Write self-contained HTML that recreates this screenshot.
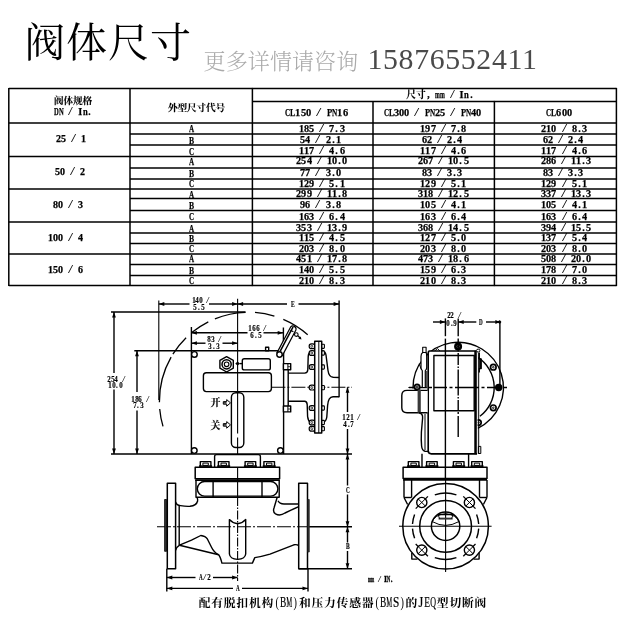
<!DOCTYPE html>
<html lang="zh-CN"><head><meta charset="utf-8"><title>阀体尺寸</title><style>
html,body{margin:0;padding:0;background:#fff}
body{width:626px;height:626px;position:relative;overflow:hidden;font-family:"Liberation Serif","Noto Serif CJK SC",serif}
svg{position:absolute;left:0;top:0}
svg *{fill:none;stroke:#000;stroke-linecap:butt;stroke-linejoin:round}
svg .f{fill:#000;stroke:none}
svg .w{fill:#fff}
svg .k{fill:#000}
#tx{position:absolute;left:0;top:0;width:626px;height:626px;will-change:transform}
.h{position:absolute;white-space:nowrap;line-height:1;font-family:"Liberation Serif","Noto Serif CJK SC",serif}
.t{-webkit-text-stroke:.25px #000;position:absolute;white-space:pre;line-height:1;font-weight:bold;color:#000;display:block;word-spacing:calc(var(--a) - .25em);font-family:"Liberation Serif","Noto Serif CJK SC",serif}
.t i,.t b,.t s,.t u,.t em{display:inline-flex;justify-content:center;width:var(--a);font-style:normal;text-decoration:none;font-weight:bold;flex:none}
.t u{width:calc(var(--a)*2);font-size:.94em;-webkit-text-stroke:.12px #000}
.t i{transform:scaleX(.93)}
.t b{transform:scale(var(--s),var(--v,1));transform-origin:50% 82%}
.t em{transform:scale(1.7,1.12);-webkit-text-stroke:0;font-weight:400}
.t s{transform:scaleX(.85)}
.t.d{-webkit-text-stroke:.15px #000}
.t.k u{-webkit-text-stroke:.15px #000}
.t.m{-webkit-text-stroke:.3px #000}
.t.c{-webkit-text-stroke:0}
.t.c b{font-weight:400;-webkit-text-stroke:.2px #000}
.t.c u{font-size:.97em;-webkit-text-stroke:0}
.t.c{--v:1.14}
.t.c i{transform:scale(.85,1.14);transform-origin:50% 82%;font-weight:400}
</style></head><body>
<svg width="626" height="626" viewBox="0 0 626 626">
<line x1="8.8" y1="88.5" x2="616.4" y2="88.5" stroke-width="1.50" />
<line x1="8.8" y1="285.5" x2="616.4" y2="285.5" stroke-width="1.50" />
<line x1="8.8" y1="87.9" x2="8.8" y2="286.1" stroke-width="1.50" />
<line x1="130.0" y1="87.9" x2="130.0" y2="286.1" stroke-width="1.50" />
<line x1="252.4" y1="87.9" x2="252.4" y2="286.1" stroke-width="1.50" />
<line x1="373.0" y1="100.9" x2="373.0" y2="286.1" stroke-width="1.50" />
<line x1="494.4" y1="100.9" x2="494.4" y2="286.1" stroke-width="1.50" />
<line x1="616.4" y1="87.9" x2="616.4" y2="286.1" stroke-width="1.50" />
<line x1="252.4" y1="101.5" x2="616.4" y2="101.5" stroke-width="1.50" />
<line x1="8.8" y1="123.0" x2="616.4" y2="123.0" stroke-width="1.50" />
<line x1="130.0" y1="134.0" x2="616.4" y2="134.0" stroke-width="1.50" />
<line x1="130.0" y1="145.0" x2="616.4" y2="145.0" stroke-width="1.50" />
<line x1="8.8" y1="156.5" x2="616.4" y2="156.5" stroke-width="1.50" />
<line x1="130.0" y1="168.0" x2="616.4" y2="168.0" stroke-width="1.50" />
<line x1="130.0" y1="179.0" x2="616.4" y2="179.0" stroke-width="1.50" />
<line x1="8.8" y1="189.0" x2="616.4" y2="189.0" stroke-width="1.50" />
<line x1="130.0" y1="198.5" x2="616.4" y2="198.5" stroke-width="1.50" />
<line x1="130.0" y1="210.5" x2="616.4" y2="210.5" stroke-width="1.50" />
<line x1="8.8" y1="222.0" x2="616.4" y2="222.0" stroke-width="1.50" />
<line x1="130.0" y1="233.0" x2="616.4" y2="233.0" stroke-width="1.50" />
<line x1="130.0" y1="243.5" x2="616.4" y2="243.5" stroke-width="1.50" />
<line x1="8.8" y1="254.0" x2="616.4" y2="254.0" stroke-width="1.50" />
<line x1="130.0" y1="264.5" x2="616.4" y2="264.5" stroke-width="1.50" />
<line x1="130.0" y1="275.5" x2="616.4" y2="275.5" stroke-width="1.50" />
<line x1="111.0" y1="312.0" x2="245.5" y2="312.0" stroke-width="1.40" />
<line x1="114.0" y1="312.0" x2="114.0" y2="373.0" stroke-width="1.40" />
<line x1="114.0" y1="389.5" x2="114.0" y2="454.0" stroke-width="1.40" />
<path d="M114.0 312.0L112.1 317.5L115.9 317.5Z" class="f"/>
<path d="M114.0 454.0L115.9 448.5L112.1 448.5Z" class="f"/>
<line x1="158.8" y1="300.5" x2="158.8" y2="400.0" stroke-width="1.10" />
<line x1="158.8" y1="304.0" x2="189.5" y2="304.0" stroke-width="1.40" />
<line x1="209.0" y1="304.0" x2="237.6" y2="304.0" stroke-width="1.40" />
<path d="M158.8 304.0L164.3 305.9L164.3 302.1Z" class="f"/>
<path d="M237.6 304.0L232.1 302.1L232.1 305.9Z" class="f"/>
<line x1="237.6" y1="304.0" x2="287.0" y2="304.0" stroke-width="1.40" />
<line x1="298.5" y1="304.0" x2="339.1" y2="304.0" stroke-width="1.40" />
<path d="M237.6 304.0L243.1 305.9L243.1 302.1Z" class="f"/>
<path d="M339.1 304.0L333.6 302.1L333.6 305.9Z" class="f"/>
<line x1="339.1" y1="300.5" x2="339.1" y2="397.2" stroke-width="1.40" />
<line x1="134.3" y1="350.7" x2="283.6" y2="350.7" stroke-width="1.40" />
<line x1="137.0" y1="350.7" x2="137.0" y2="392.0" stroke-width="1.40" />
<line x1="137.0" y1="410.5" x2="137.0" y2="454.0" stroke-width="1.40" />
<path d="M137.0 350.7L135.1 356.2L138.9 356.2Z" class="f"/>
<path d="M137.0 454.0L138.9 448.5L135.1 448.5Z" class="f"/>
<line x1="191.4" y1="327.0" x2="191.4" y2="454.0" stroke-width="1.40" />
<line x1="191.4" y1="332.8" x2="247.5" y2="332.8" stroke-width="1.40" />
<line x1="263.5" y1="332.8" x2="283.2" y2="332.8" stroke-width="1.40" />
<path d="M191.4 332.8L196.9 334.7L196.9 330.9Z" class="f"/>
<path d="M283.2 332.8L277.7 330.9L277.7 334.7Z" class="f"/>
<line x1="283.4" y1="327.5" x2="283.4" y2="351.0" stroke-width="1.40" />
<line x1="191.4" y1="343.2" x2="205.5" y2="343.2" stroke-width="1.40" />
<line x1="222.5" y1="343.2" x2="237.6" y2="343.2" stroke-width="1.40" />
<path d="M191.4 343.2L196.9 345.1L196.9 341.3Z" class="f"/>
<path d="M237.6 343.2L232.1 341.3L232.1 345.1Z" class="f"/>
<line x1="111.0" y1="454.0" x2="352.0" y2="454.0" stroke-width="1.40" />
<line x1="347.5" y1="387.3" x2="347.5" y2="412.0" stroke-width="1.40" />
<line x1="347.5" y1="429.0" x2="347.5" y2="454.0" stroke-width="1.40" />
<path d="M347.5 387.3L345.6 392.8L349.4 392.8Z" class="f"/>
<path d="M347.5 454.0L349.4 448.5L345.6 448.5Z" class="f"/>
<line x1="347.5" y1="454.0" x2="347.5" y2="485.5" stroke-width="1.40" />
<line x1="347.5" y1="494.5" x2="347.5" y2="526.7" stroke-width="1.40" />
<path d="M347.5 454.0L345.6 459.5L349.4 459.5Z" class="f"/>
<path d="M347.5 526.7L349.4 521.2L345.6 521.2Z" class="f"/>
<line x1="347.5" y1="526.7" x2="347.5" y2="542.5" stroke-width="1.40" />
<line x1="347.5" y1="551.0" x2="347.5" y2="568.7" stroke-width="1.40" />
<path d="M347.5 526.7L345.6 532.2L349.4 532.2Z" class="f"/>
<path d="M347.5 568.7L349.4 563.2L345.6 563.2Z" class="f"/>
<line x1="298.7" y1="568.7" x2="352.0" y2="568.7" stroke-width="1.40" />
<line x1="166.8" y1="568.7" x2="166.8" y2="591.5" stroke-width="1.40" />
<line x1="308.0" y1="568.7" x2="308.0" y2="591.5" stroke-width="1.40" />
<line x1="166.8" y1="577.5" x2="195.5" y2="577.5" stroke-width="1.40" />
<line x1="213.0" y1="577.5" x2="237.6" y2="577.5" stroke-width="1.40" />
<path d="M166.8 577.5L172.3 579.4L172.3 575.6Z" class="f"/>
<path d="M237.6 577.5L232.1 575.6L232.1 579.4Z" class="f"/>
<line x1="166.8" y1="588.4" x2="233.0" y2="588.4" stroke-width="1.40" />
<line x1="242.0" y1="588.4" x2="308.0" y2="588.4" stroke-width="1.40" />
<path d="M166.8 588.4L172.3 590.3L172.3 586.5Z" class="f"/>
<path d="M308.0 588.4L302.5 586.5L302.5 590.3Z" class="f"/>
<line x1="237.6" y1="298.8" x2="237.6" y2="433.5" stroke-width="1.10" />
<line x1="237.6" y1="437.5" x2="237.6" y2="455.0" stroke-width="1.10" />
<line x1="237.6" y1="467.0" x2="237.6" y2="497.0" stroke-width="1.10" />
<line x1="237.6" y1="497.0" x2="237.6" y2="581.0" stroke-width="1.10" stroke-dasharray="9 1.5 1.5 1.5"/>
<line x1="271.4" y1="387.3" x2="352.0" y2="387.3" stroke-width="1.10" stroke-dasharray="14 2 2 2"/>
<line x1="157.0" y1="526.7" x2="308.0" y2="526.7" stroke-width="1.10" stroke-dasharray="14 2 2 2"/>
<line x1="308.0" y1="526.7" x2="352.0" y2="526.7" stroke-width="1.40" />
<path d="M163.0 426.4A89.1 89.1 0 0 1 159.7 409.0" stroke-width="1.30" />
<path d="M159.4 402.2A89.1 89.1 0 0 1 171.1 357.1" stroke-width="1.30" />
<path d="M172.9 354.1A89.1 89.1 0 0 1 186.1 337.7" stroke-width="1.30" />
<path d="M191.7 332.6A89.1 89.1 0 0 1 208.3 321.8" stroke-width="1.30" />
<path d="M214.9 318.8A89.1 89.1 0 0 1 245.5 312.3" stroke-width="1.30" />
<path d="M255.0 312.4A89.1 89.1 0 0 1 274.4 316.1" stroke-width="1.30" />
<path d="M283.3 319.3A89.1 89.1 0 0 1 307.7 334.7" stroke-width="1.30" />
<line x1="283.6" y1="352.0" x2="283.6" y2="454.0" stroke-width="1.40" />
<circle cx="194.4" cy="354.4" r="2.8" stroke-width="1.40" class="w"/>
<circle cx="194.3" cy="450.6" r="2.8" stroke-width="1.40" class="w"/>
<circle cx="280.4" cy="450.6" r="2.8" stroke-width="1.40" class="w"/>
<polygon points="233.3,368.2 226.6,372.0 219.9,368.2 219.9,360.4 226.6,356.6 233.3,360.4" stroke-width="1.4"/>
<circle cx="226.6" cy="364.3" r="4.6" stroke-width="1.50" />
<circle cx="226.6" cy="364.3" r="2.3" stroke-width="1.10" />
<rect x="242.3" y="358.7" width="28.0" height="11.2" rx="2.0" stroke-width="1.40" />
<path d="M235.6 363.6L237.6 361.8L239.6 363.6L237.6 365.4Z" class="k" stroke-width=".5"/>
<line x1="239.6" y1="363.6" x2="242.3" y2="363.6" stroke-width="1.40" />
<rect x="203.4" y="372.7" width="68.0" height="18.9" rx="3.0" stroke-width="1.40" />
<rect x="231.4" y="392.8" width="12.4" height="54.7" rx="4.5" stroke-width="1.40" />
<rect x="265.6" y="347.2" width="3.1" height="3.5" rx="0.0" stroke-width="1.40" />
<path d="M223.3 401.6h3.4v-2l3.8 3.3l-3.8 3.3v-2h-3.4z" stroke-width="1" class="w"/>
<line x1="223.6" y1="402.9" x2="226.5" y2="402.9" stroke-width="1.30" />
<path d="M223.3 423.6h3.4v-2l3.8 3.3l-3.8 3.3v-2h-3.4z" stroke-width="1" class="w"/>
<line x1="223.6" y1="424.9" x2="226.5" y2="424.9" stroke-width="1.30" />
<path d="M282.2 355.9L295.9 330.0A3.1 3.1 0 0 0 290.5 327.2L276.8 353.1" stroke-width="1.20" class="w"/>
<path d="M280.1 351.4L293.1 326.9" stroke-width="1.50" />
<circle cx="279.5" cy="354.5" r="2.7" stroke-width="1.40" class="w"/>
<circle cx="296.3" cy="334.6" r="1.8" stroke-width="1.10" />
<path d="M297.8 335.8L300.8 338.6" stroke-width="1.30" />
<path d="M301.6 339.4L298.3 338.6L300.4 336.4Z" class="f"/>
<path d="M290.5 330.2L293.4 331.8" stroke-width="1.20" />
<line x1="288.2" y1="365.0" x2="288.2" y2="406.0" stroke-width="1.40" />
<rect x="283.4" y="363.6" width="7.3" height="6.2" rx="0.0" stroke-width="1.40" class="w"/>
<line x1="287.9" y1="363.6" x2="287.9" y2="369.8" stroke-width="1.00" />
<line x1="287.9" y1="366.7" x2="290.7" y2="366.7" stroke-width="0.80" />
<rect x="283.4" y="406.0" width="7.3" height="5.9" rx="0.0" stroke-width="1.40" class="w"/>
<line x1="287.9" y1="406.0" x2="287.9" y2="411.9" stroke-width="1.00" />
<line x1="287.9" y1="409.0" x2="290.7" y2="409.0" stroke-width="0.80" />
<path d="M288.2 373.1H304.6Q307.6 373.1 307.8 369.8L308.2 356.5Q308.4 352.6 311 351.6" stroke-width="1.40" />
<path d="M288.2 401.3H304.6Q307 401.3 307.2 404.6L307.6 416.5Q308 421 311 423" stroke-width="1.40" />
<path d="M322 350.8Q325.4 351.4 326 355L328 370.5Q328.8 376.8 333.2 377.3L339.1 377.5" stroke-width="1.40" />
<path d="M323 422.4Q326.2 421.5 326.8 417L327.6 405.5Q328.2 397 333 396.8H339.1" stroke-width="1.40" />
<rect x="309.2" y="343.9" width="5.8" height="4.8" rx="2.2" stroke-width="1.20" class="w"/>
<ellipse cx="311.8" cy="346.3" rx="0.9" ry="1.1" stroke-width=".7"/>
<rect x="321.5" y="344.2" width="2.9" height="4.2" rx="0.8" stroke-width="1.10" class="w"/>
<rect x="309.2" y="350.6" width="5.8" height="4.8" rx="2.2" stroke-width="1.20" class="w"/>
<ellipse cx="311.8" cy="353.0" rx="0.9" ry="1.1" stroke-width=".7"/>
<rect x="321.5" y="350.9" width="2.9" height="4.2" rx="0.8" stroke-width="1.10" class="w"/>
<rect x="309.2" y="364.6" width="5.8" height="4.8" rx="2.2" stroke-width="1.20" class="w"/>
<ellipse cx="311.8" cy="367.0" rx="0.9" ry="1.1" stroke-width=".7"/>
<rect x="321.5" y="364.9" width="2.9" height="4.2" rx="0.8" stroke-width="1.10" class="w"/>
<rect x="309.2" y="385.2" width="5.8" height="4.8" rx="2.2" stroke-width="1.20" class="w"/>
<ellipse cx="311.8" cy="387.6" rx="0.9" ry="1.1" stroke-width=".7"/>
<rect x="321.5" y="385.5" width="2.9" height="4.2" rx="0.8" stroke-width="1.10" class="w"/>
<rect x="309.2" y="405.6" width="5.8" height="4.8" rx="2.2" stroke-width="1.20" class="w"/>
<ellipse cx="311.8" cy="408.0" rx="0.9" ry="1.1" stroke-width=".7"/>
<rect x="321.5" y="405.9" width="2.9" height="4.2" rx="0.8" stroke-width="1.10" class="w"/>
<rect x="309.2" y="420.1" width="5.8" height="4.8" rx="2.2" stroke-width="1.20" class="w"/>
<ellipse cx="311.8" cy="422.5" rx="0.9" ry="1.1" stroke-width=".7"/>
<rect x="321.5" y="420.4" width="2.9" height="4.2" rx="0.8" stroke-width="1.10" class="w"/>
<rect x="309.2" y="426.3" width="5.8" height="4.8" rx="2.2" stroke-width="1.20" class="w"/>
<ellipse cx="311.8" cy="428.7" rx="0.9" ry="1.1" stroke-width=".7"/>
<rect x="321.5" y="426.6" width="2.9" height="4.2" rx="0.8" stroke-width="1.10" class="w"/>
<rect x="314.7" y="341.3" width="7.0" height="91.8" rx="0.0" stroke-width="1.50" class="w"/>
<line x1="318.8" y1="341.3" x2="318.8" y2="433.1" stroke-width="1.00" />
<path d="M200.3 467.0V461.6H210.9V467.0" stroke-width="1.40" />
<rect x="202.9" y="463.1" width="5.4" height="2.3" rx="0.0" stroke-width="1.00" />
<line x1="199.1" y1="466.1" x2="212.1" y2="466.1" stroke-width="1.60" />
<path d="M218.4 467.0V461.6H229.0V467.0" stroke-width="1.40" />
<rect x="221.0" y="463.1" width="5.4" height="2.3" rx="0.0" stroke-width="1.00" />
<line x1="217.2" y1="466.1" x2="230.2" y2="466.1" stroke-width="1.60" />
<path d="M245.1 467.0V461.6H255.7V467.0" stroke-width="1.40" />
<rect x="247.7" y="463.1" width="5.4" height="2.3" rx="0.0" stroke-width="1.00" />
<line x1="243.9" y1="466.1" x2="256.9" y2="466.1" stroke-width="1.60" />
<path d="M263.9 467.0V461.6H274.5V467.0" stroke-width="1.40" />
<rect x="266.5" y="463.1" width="5.4" height="2.3" rx="0.0" stroke-width="1.00" />
<line x1="262.7" y1="466.1" x2="275.7" y2="466.1" stroke-width="1.60" />
<path d="M214.6 467V456.5Q214.6 454.6 216.6 454.6H258.4Q260.4 454.6 260.4 456.5V467" stroke-width="1.40" />
<rect x="195.2" y="467.3" width="84.4" height="11.5" rx="0.0" stroke-width="1.50" />
<line x1="195.2" y1="480.3" x2="279.6" y2="480.3" stroke-width="1.40" />
<rect x="196.0" y="480.3" width="83.2" height="16.9" rx="0.0" stroke-width="1.40" />
<rect x="197.3" y="481.5" width="80.6" height="14.6" rx="7.3" stroke-width="1.40" />
<line x1="213.1" y1="480.3" x2="213.1" y2="497.2" stroke-width="1.40" />
<line x1="262.0" y1="480.3" x2="262.0" y2="497.2" stroke-width="1.40" />
<rect x="167.3" y="483.2" width="8.3" height="85.5" rx="0.0" stroke-width="1.50" />
<rect x="164.6" y="499.5" width="2.0" height="51.8" rx="0.0" stroke-width="0.80" class="k" style="fill:#333"/>
<rect x="298.7" y="483.2" width="8.8" height="85.5" rx="0.0" stroke-width="1.50" />
<rect x="307.8" y="499.5" width="1.5" height="52.5" rx="0.0" stroke-width="0.70" class="k" style="stroke:#222;fill:#333"/>
<line x1="179.2" y1="505.5" x2="179.2" y2="545.0" stroke-width="1.40" />
<path d="M175.6 502Q176.6 505.3 180.4 505.6Q186 506.6 190 506.3Q196.5 505.6 197.6 501Q197.9 499 197 497.2" stroke-width="1.40" />
<path d="M277.2 497.2L274 508Q272.6 512 275.5 513.8Q280 516.4 285 513Q290 510.5 298.7 506.7" stroke-width="1.40" />
<path d="M278 500.8Q279.5 504 284 504H298.7" stroke-width="1.40" />
<path d="M229.4 554V519.6Q233.5 524 237.6 523.4Q241.6 524 245.7 519.6V554Q245.2 559 237.6 559.4Q230 559 229.4 554Z" stroke-width="1.40" />
<path d="M175.6 550.4Q176.5 547 179.5 545.2Q186 542.5 191.5 540.2L200.8 535.5Q205.5 536 207.5 539.2L211.5 547.2Q214 552.5 218.7 554.8Q220.4 557 221.9 563.1H252.4L254.8 557.6Q262 556.6 270 554.2L293.9 544.8Q297 544.2 298.7 545.6" stroke-width="1.40" />
<path d="M179.5 545.2L218.7 554.8" stroke-width="1.40" />
<line x1="433.0" y1="322.0" x2="445.4" y2="322.0" stroke-width="1.40" />
<path d="M445.4 322.0L439.9 320.1L439.9 323.9Z" class="f"/>
<line x1="458.2" y1="322.0" x2="476.3" y2="322.0" stroke-width="1.40" />
<line x1="486.0" y1="322.0" x2="499.9" y2="322.0" stroke-width="1.40" />
<path d="M458.2 322.0L463.7 323.9L463.7 320.1Z" class="f"/>
<path d="M499.9 322.0L495.4 320.1L495.4 323.9Z" class="f"/>
<circle cx="499.6" cy="322.0" r="1.2" stroke-width="1.00" class="k"/>
<line x1="499.9" y1="322.0" x2="499.9" y2="387.5" stroke-width="1.40" />
<path d="M413.0 388.5A45.2 45.2 0 1 1 477.7 428.3" stroke-width="1.40"/>
<path d="M478.3 357.7A36 36 0 0 1 479.9 416.3" stroke-width="1.40"/>
<circle cx="493.3" cy="367.2" r="2.8" stroke-width="1.70" class="w"/>
<circle cx="493.3" cy="367.2" r="0.8" stroke-width="0.90" />
<circle cx="493.3" cy="407.8" r="2.8" stroke-width="1.70" class="w"/>
<circle cx="493.3" cy="407.8" r="0.8" stroke-width="0.90" />
<circle cx="478.4" cy="422.6" r="2.8" stroke-width="1.70" class="w"/>
<circle cx="478.4" cy="422.6" r="0.8" stroke-width="0.90" />
<circle cx="498.7" cy="387.5" r="2.9" stroke-width="1.60" class="k"/>
<path d="M419.2 363.8L421.2 369.2" stroke-width="1.00" />
<path d="M434.5 351L437.6 348.6L440 351" stroke-width="0.90" />
<rect x="428.3" y="351.0" width="49.3" height="102.8" rx="0.0" stroke-width="0.10" class="w" stroke="none"/>
<path d="M429.6 350.9Q428.2 351.2 428.2 353V450.8Q428.2 453.8 431.4 453.8H477" stroke-width="1.65" />
<line x1="429.4" y1="350.9" x2="476.0" y2="350.9" stroke-width="1.50" />
<rect x="474.6" y="351.0" width="1.9" height="102.8" rx="0.0" stroke-width="0.60" class="k"/>
<line x1="478.7" y1="353.0" x2="478.7" y2="453.8" stroke-width="1.00" />
<ellipse cx="478.2" cy="350.6" rx="1.7" ry="1.5" stroke-width="1" class="w"/>
<rect x="433.9" y="355.5" width="40.3" height="55.3" rx="0.0" stroke-width="1.40" />
<circle cx="458.1" cy="346.5" r="3.3" stroke-width="1.40" class="k"/>
<circle cx="458.1" cy="346.5" r="1.2" stroke-width="0.70" style="stroke:#777"/>
<line x1="445.4" y1="318.4" x2="445.4" y2="336.2" stroke-width="1.40" />
<line x1="445.4" y1="338.6" x2="445.4" y2="480.0" stroke-width="1.40" />
<line x1="458.2" y1="318.4" x2="458.2" y2="336.2" stroke-width="1.40" />
<line x1="458.2" y1="338.6" x2="458.2" y2="437.0" stroke-width="1.40" stroke-dasharray="10 1.5 1.5 1.5 12 1.5 1.5 1.5 26 1.5 1.5 1.5 10 2 2 2 27 0"/>
<line x1="409.0" y1="387.5" x2="507.0" y2="387.5" stroke-width="1.30" stroke-dasharray="18 2 3 2 13 2.5 3 2.5 24 2.5 3 2.5 14 2.5"/>
<path d="M479.3 352.5V359H481.2V368.6H479.3V372.4" stroke-width="1.30" />
<rect x="479.3" y="359.0" width="1.7" height="9.6" rx="0.0" stroke-width="0.60" class="k"/>
<rect x="478.4" y="446.4" width="2.4" height="7.1" rx="0.0" stroke-width="1.00" />
<rect x="422.7" y="347.3" width="3.4" height="5.2" rx="0.0" stroke-width="1.10" class="w"/>
<path d="M422.3 387.3V370.6Q421 369.4 421 367.6V356.5Q421 353.6 422.7 352.5H426.1Q426.7 353.8 426.7 356.5V367.6Q426.7 369.4 425.3 370.6V387.3" stroke-width="1.20" class="w"/>
<path d="M426.9 371V388" stroke-width="1.60" style="stroke:#444"/>
<line x1="408.4" y1="387.5" x2="426.6" y2="387.5" stroke-width="1.00" />
<circle cx="417.1" cy="386.9" r="2.6" stroke-width="1.80" class="w"/>
<circle cx="417.1" cy="386.9" r="0.9" stroke-width="1.40" style="stroke:#444"/>
<path d="M427.6 390.4H407Q401.8 390.4 401.8 395.4V407.8Q401.8 412.7 407 412.7H427.6" stroke-width="1.40" class="w"/>
<line x1="419.2" y1="389.6" x2="419.2" y2="412.7" stroke-width="3.20" style="stroke:#3a3a3a"/>
<path d="M419 412.7Q423 413.5 422.6 418L421.4 432Q421 440 421.6 446Q422 450.6 425 451.2L428 451.4" stroke-width="1.40" />
<path d="M425 414V450" stroke-width="1.00" />
<path d="M422 467V453.8M468.6 467V453.8" stroke-width="1.40" />
<path d="M408.3 467.0V461.6H418.9V467.0" stroke-width="1.40" />
<rect x="410.9" y="463.1" width="5.4" height="2.3" rx="0.0" stroke-width="1.00" />
<line x1="407.1" y1="466.1" x2="420.1" y2="466.1" stroke-width="1.60" />
<path d="M426.6 467.0V461.6H437.2V467.0" stroke-width="1.40" />
<rect x="429.2" y="463.1" width="5.4" height="2.3" rx="0.0" stroke-width="1.00" />
<line x1="425.4" y1="466.1" x2="438.4" y2="466.1" stroke-width="1.60" />
<path d="M453.4 467.0V461.6H464.0V467.0" stroke-width="1.40" />
<rect x="456.0" y="463.1" width="5.4" height="2.3" rx="0.0" stroke-width="1.00" />
<line x1="452.2" y1="466.1" x2="465.2" y2="466.1" stroke-width="1.60" />
<path d="M471.7 467.0V461.6H482.3V467.0" stroke-width="1.40" />
<rect x="474.3" y="463.1" width="5.4" height="2.3" rx="0.0" stroke-width="1.00" />
<line x1="470.5" y1="466.1" x2="483.5" y2="466.1" stroke-width="1.60" />
<rect x="403.1" y="467.3" width="83.9" height="11.3" rx="0.0" stroke-width="1.50" />
<line x1="403.1" y1="479.8" x2="487.0" y2="479.8" stroke-width="2.00" />
<path d="M404 480V497.5M487 480V497.5M411.6 480V497.5M479.5 480V497.5" stroke-width="1.40" />
<path d="M404 497.5L407.6 504.5M487 497.5L483.4 504.5" stroke-width="1.40" />
<line x1="404.0" y1="497.5" x2="411.6" y2="497.5" stroke-width="1.40" />
<line x1="479.5" y1="497.5" x2="487.0" y2="497.5" stroke-width="1.40" />
<circle cx="445.6" cy="526.3" r="42.8" stroke-width="1.50" />
<circle cx="445.6" cy="526.3" r="25.9" stroke-width="1.50" />
<circle cx="445.6" cy="526.3" r="14.2" stroke-width="1.50" />
<path d="M434.8 494.9A33.2 33.2 0 0 1 456.4 494.9" stroke-width="1.40" />
<path d="M456.4 557.7A33.2 33.2 0 0 1 434.8 557.7" stroke-width="1.40" />
<path d="M476.6 514.4A33.2 33.2 0 0 1 478.7 524.0" stroke-width="1.40" />
<path d="M478.7 528.6A33.2 33.2 0 0 1 476.6 538.2" stroke-width="1.40" />
<path d="M414.6 538.2A33.2 33.2 0 0 1 412.5 528.6" stroke-width="1.40" />
<path d="M412.5 524.0A33.2 33.2 0 0 1 414.6 514.4" stroke-width="1.40" />
<path d="M427.9 496.4L415.7 508.6" stroke-width="1.30" />
<circle cx="421.8" cy="502.5" r="5.1" stroke-width="1.40" class="w"/>
<path d="M425.3 498.9L418.2 506.0M425.3 506.0L418.2 498.9" stroke-width="1.00" />
<path d="M475.5 508.6L463.3 496.4" stroke-width="1.30" />
<circle cx="469.4" cy="502.5" r="5.1" stroke-width="1.40" class="w"/>
<path d="M473.0 506.0L465.9 498.9M465.9 506.0L473.0 498.9" stroke-width="1.00" />
<path d="M463.3 556.2L475.5 544.0" stroke-width="1.30" />
<circle cx="469.4" cy="550.1" r="5.1" stroke-width="1.40" class="w"/>
<path d="M465.9 553.7L473.0 546.6M465.9 546.6L473.0 553.7" stroke-width="1.00" />
<path d="M415.7 544.0L427.9 556.2" stroke-width="1.30" />
<circle cx="421.8" cy="550.1" r="5.1" stroke-width="1.40" class="w"/>
<path d="M418.2 546.6L425.3 553.7M425.3 546.6L418.2 553.7" stroke-width="1.00" />
<line x1="445.6" y1="479.0" x2="445.6" y2="572.0" stroke-width="1.10" />
<line x1="399.0" y1="526.3" x2="491.6" y2="526.3" stroke-width="1.10" />
<path d="M432.3 521.6Q434.5 515 445.6 513.6Q456.7 515 458.9 521.6Q452 525.4 445.6 525.4Q439 525.4 432.3 521.6Z" stroke-width="1.00" />
<path d="M438 514.6H453.2" stroke-width="1.30" />
<path d="M438.6 518.6H452.6" stroke-width="1.90" style="stroke:#333"/>
<path d="M438 514.6L439.6 518.6M453.2 514.6L451.6 518.6" stroke-width="0.90" />
<path d="M411.8 552.7V559.1H417.4M479.1 552.7V559.1H473.6" stroke-width="1.40" />
</svg>
<div id="tx">
<div class="h" style="left:24.2px;top:22.6px;font-size:41px;letter-spacing:0.9px;color:#000;font-weight:400">阀体尺寸</div>
<div class="h" style="left:203.6px;top:50.6px;font-size:22px;letter-spacing:0.1px;color:#aaa;font-weight:300">更多详情请咨询</div>
<div class="h" style="left:367.5px;top:44.0px;font-size:29.8px;letter-spacing:0.65px;color:#4a4a4a;font-weight:400">15876552411</div>
<div class="t " aria-label="阀体规格" style="left:54.00px;top:95.71px;font-size:10.26px;--a:4.75px"><u>阀</u><u>体</u><u>规</u><u>格</u></div>
<div class="t " aria-label="DN / In." style="left:54.00px;top:107.41px;font-size:10.26px;--a:4.75px"><b style="--s:.64">D</b><b style="--s:.64">N</b> <em>/</em> <b style="--s:1.00">I</b><b style="--s:.83">n</b><i>.</i></div>
<div class="t " aria-label="外型尺寸代号" style="left:168.00px;top:102.91px;font-size:10.26px;--a:4.75px"><u>外</u><u>型</u><u>尺</u><u>寸</u><u>代</u><u>号</u></div>
<div class="t " aria-label="尺寸, mm / In." style="left:406.40px;top:90.22px;font-size:10.37px;--a:4.80px"><u>尺</u><u>寸</u><i>,</i> <b style="--s:.56">m</b><b style="--s:.56">m</b> <em>/</em> <b style="--s:1.00">I</b><b style="--s:.83">n</b><i>.</i></div>
<div class="t " aria-label="CL150 / PN16" style="left:284.90px;top:106.90px;font-size:11.34px;--a:5.25px"><b style="--s:.64">C</b><b style="--s:.69">L</b><i>1</i><i>5</i><i>0</i> <em>/</em> <b style="--s:.76">P</b><b style="--s:.64">N</b><i>1</i><i>6</i></div>
<div class="t " aria-label="CL300 / PN25 / PN40" style="left:383.57px;top:107.08px;font-size:11.12px;--a:5.15px"><b style="--s:.64">C</b><b style="--s:.69">L</b><i>3</i><i>0</i><i>0</i> <em>/</em> <b style="--s:.76">P</b><b style="--s:.64">N</b><i>2</i><i>5</i> <em>/</em> <b style="--s:.76">P</b><b style="--s:.64">N</b><i>4</i><i>0</i></div>
<div class="t " aria-label="CL600" style="left:546.12px;top:107.08px;font-size:11.12px;--a:5.15px"><b style="--s:.64">C</b><b style="--s:.69">L</b><i>6</i><i>0</i><i>0</i></div>
<div class="t " aria-label="25 / 1" style="left:56.40px;top:133.45px;font-size:10.80px;--a:5.00px"><i>2</i><i>5</i> <em>/</em> <i>1</i></div>
<div class="t " aria-label="A" style="left:189.03px;top:123.08px;font-size:11.12px;--a:5.15px"><b style="--s:.64">A</b></div>
<div class="t " aria-label="185 / 7.3" style="left:298.80px;top:122.57px;font-size:11.02px;--a:5.10px"><i>1</i><i>8</i><i>5</i> <em>/</em> <i>7</i><i>.</i><i>3</i></div>
<div class="t " aria-label="197 / 7.8" style="left:420.40px;top:122.57px;font-size:11.02px;--a:5.10px"><i>1</i><i>9</i><i>7</i> <em>/</em> <i>7</i><i>.</i><i>8</i></div>
<div class="t " aria-label="210 / 8.3" style="left:541.20px;top:122.57px;font-size:11.02px;--a:5.10px"><i>2</i><i>1</i><i>0</i> <em>/</em> <i>8</i><i>.</i><i>3</i></div>
<div class="t " aria-label="B" style="left:189.03px;top:134.58px;font-size:11.12px;--a:5.15px"><b style="--s:.69">B</b></div>
<div class="t " aria-label="54 / 2.1" style="left:300.20px;top:134.07px;font-size:11.02px;--a:5.10px"><i>5</i><i>4</i> <em>/</em> <i>2</i><i>.</i><i>1</i></div>
<div class="t " aria-label="62 / 2.4" style="left:421.70px;top:134.07px;font-size:11.02px;--a:5.10px"><i>6</i><i>2</i> <em>/</em> <i>2</i><i>.</i><i>4</i></div>
<div class="t " aria-label="62 / 2.4" style="left:542.80px;top:134.07px;font-size:11.02px;--a:5.10px"><i>6</i><i>2</i> <em>/</em> <i>2</i><i>.</i><i>4</i></div>
<div class="t " aria-label="C" style="left:189.03px;top:145.78px;font-size:11.12px;--a:5.15px"><b style="--s:.64">C</b></div>
<div class="t " aria-label="117 / 4.6" style="left:298.80px;top:145.27px;font-size:11.02px;--a:5.10px"><i>1</i><i>1</i><i>7</i> <em>/</em> <i>4</i><i>.</i><i>6</i></div>
<div class="t " aria-label="117 / 4.6" style="left:420.40px;top:145.27px;font-size:11.02px;--a:5.10px"><i>1</i><i>1</i><i>7</i> <em>/</em> <i>4</i><i>.</i><i>6</i></div>
<div class="t " aria-label="117 / 4.6" style="left:541.20px;top:145.27px;font-size:11.02px;--a:5.10px"><i>1</i><i>1</i><i>7</i> <em>/</em> <i>4</i><i>.</i><i>6</i></div>
<div class="t " aria-label="50 / 2" style="left:55.40px;top:166.45px;font-size:10.80px;--a:5.00px"><i>5</i><i>0</i> <em>/</em> <i>2</i></div>
<div class="t " aria-label="A" style="left:189.03px;top:155.88px;font-size:11.12px;--a:5.15px"><b style="--s:.64">A</b></div>
<div class="t " aria-label="254 / 10.0" style="left:296.40px;top:155.37px;font-size:11.02px;--a:5.10px"><i>2</i><i>5</i><i>4</i> <em>/</em> <i>1</i><i>0</i><i>.</i><i>0</i></div>
<div class="t " aria-label="267 / 10.5" style="left:417.70px;top:155.37px;font-size:11.02px;--a:5.10px"><i>2</i><i>6</i><i>7</i> <em>/</em> <i>1</i><i>0</i><i>.</i><i>5</i></div>
<div class="t " aria-label="286 / 11.3" style="left:540.60px;top:155.37px;font-size:11.02px;--a:5.10px"><i>2</i><i>8</i><i>6</i> <em>/</em> <i>1</i><i>1</i><i>.</i><i>3</i></div>
<div class="t " aria-label="B" style="left:189.03px;top:167.78px;font-size:11.12px;--a:5.15px"><b style="--s:.69">B</b></div>
<div class="t " aria-label="77 / 3.0" style="left:300.20px;top:167.27px;font-size:11.02px;--a:5.10px"><i>7</i><i>7</i> <em>/</em> <i>3</i><i>.</i><i>0</i></div>
<div class="t " aria-label="83 / 3.3" style="left:421.70px;top:167.27px;font-size:11.02px;--a:5.10px"><i>8</i><i>3</i> <em>/</em> <i>3</i><i>.</i><i>3</i></div>
<div class="t " aria-label="83 / 3.3" style="left:542.80px;top:167.27px;font-size:11.02px;--a:5.10px"><i>8</i><i>3</i> <em>/</em> <i>3</i><i>.</i><i>3</i></div>
<div class="t " aria-label="C" style="left:189.03px;top:178.28px;font-size:11.12px;--a:5.15px"><b style="--s:.64">C</b></div>
<div class="t " aria-label="129 / 5.1" style="left:298.80px;top:177.77px;font-size:11.02px;--a:5.10px"><i>1</i><i>2</i><i>9</i> <em>/</em> <i>5</i><i>.</i><i>1</i></div>
<div class="t " aria-label="129 / 5.1" style="left:420.40px;top:177.77px;font-size:11.02px;--a:5.10px"><i>1</i><i>2</i><i>9</i> <em>/</em> <i>5</i><i>.</i><i>1</i></div>
<div class="t " aria-label="129 / 5.1" style="left:541.20px;top:177.77px;font-size:11.02px;--a:5.10px"><i>1</i><i>2</i><i>9</i> <em>/</em> <i>5</i><i>.</i><i>1</i></div>
<div class="t " aria-label="80 / 3" style="left:52.60px;top:198.56px;font-size:10.80px;--a:5.00px"><i>8</i><i>0</i> <em>/</em> <i>3</i></div>
<div class="t " aria-label="A" style="left:189.03px;top:188.98px;font-size:11.12px;--a:5.15px"><b style="--s:.64">A</b></div>
<div class="t " aria-label="299 / 11.8" style="left:296.40px;top:188.47px;font-size:11.02px;--a:5.10px"><i>2</i><i>9</i><i>9</i> <em>/</em> <i>1</i><i>1</i><i>.</i><i>8</i></div>
<div class="t " aria-label="318 / 12.5" style="left:417.70px;top:188.47px;font-size:11.02px;--a:5.10px"><i>3</i><i>1</i><i>8</i> <em>/</em> <i>1</i><i>2</i><i>.</i><i>5</i></div>
<div class="t " aria-label="337 / 13.3" style="left:540.60px;top:188.47px;font-size:11.02px;--a:5.10px"><i>3</i><i>3</i><i>7</i> <em>/</em> <i>1</i><i>3</i><i>.</i><i>3</i></div>
<div class="t " aria-label="B" style="left:189.03px;top:199.68px;font-size:11.12px;--a:5.15px"><b style="--s:.69">B</b></div>
<div class="t " aria-label="96 / 3.8" style="left:300.20px;top:199.17px;font-size:11.02px;--a:5.10px"><i>9</i><i>6</i> <em>/</em> <i>3</i><i>.</i><i>8</i></div>
<div class="t " aria-label="105 / 4.1" style="left:420.40px;top:199.17px;font-size:11.02px;--a:5.10px"><i>1</i><i>0</i><i>5</i> <em>/</em> <i>4</i><i>.</i><i>1</i></div>
<div class="t " aria-label="105 / 4.1" style="left:541.20px;top:199.17px;font-size:11.02px;--a:5.10px"><i>1</i><i>0</i><i>5</i> <em>/</em> <i>4</i><i>.</i><i>1</i></div>
<div class="t " aria-label="C" style="left:189.03px;top:211.18px;font-size:11.12px;--a:5.15px"><b style="--s:.64">C</b></div>
<div class="t " aria-label="163 / 6.4" style="left:298.80px;top:210.67px;font-size:11.02px;--a:5.10px"><i>1</i><i>6</i><i>3</i> <em>/</em> <i>6</i><i>.</i><i>4</i></div>
<div class="t " aria-label="163 / 6.4" style="left:420.40px;top:210.67px;font-size:11.02px;--a:5.10px"><i>1</i><i>6</i><i>3</i> <em>/</em> <i>6</i><i>.</i><i>4</i></div>
<div class="t " aria-label="163 / 6.4" style="left:541.20px;top:210.67px;font-size:11.02px;--a:5.10px"><i>1</i><i>6</i><i>3</i> <em>/</em> <i>6</i><i>.</i><i>4</i></div>
<div class="t " aria-label="100 / 4" style="left:48.30px;top:232.36px;font-size:10.80px;--a:5.00px"><i>1</i><i>0</i><i>0</i> <em>/</em> <i>4</i></div>
<div class="t " aria-label="A" style="left:189.03px;top:222.78px;font-size:11.12px;--a:5.15px"><b style="--s:.64">A</b></div>
<div class="t " aria-label="353 / 13.9" style="left:296.40px;top:222.27px;font-size:11.02px;--a:5.10px"><i>3</i><i>5</i><i>3</i> <em>/</em> <i>1</i><i>3</i><i>.</i><i>9</i></div>
<div class="t " aria-label="368 / 14.5" style="left:417.70px;top:222.27px;font-size:11.02px;--a:5.10px"><i>3</i><i>6</i><i>8</i> <em>/</em> <i>1</i><i>4</i><i>.</i><i>5</i></div>
<div class="t " aria-label="394 / 15.5" style="left:540.60px;top:222.27px;font-size:11.02px;--a:5.10px"><i>3</i><i>9</i><i>4</i> <em>/</em> <i>1</i><i>5</i><i>.</i><i>5</i></div>
<div class="t " aria-label="B" style="left:189.03px;top:232.88px;font-size:11.12px;--a:5.15px"><b style="--s:.69">B</b></div>
<div class="t " aria-label="115 / 4.5" style="left:298.80px;top:232.37px;font-size:11.02px;--a:5.10px"><i>1</i><i>1</i><i>5</i> <em>/</em> <i>4</i><i>.</i><i>5</i></div>
<div class="t " aria-label="127 / 5.0" style="left:420.40px;top:232.37px;font-size:11.02px;--a:5.10px"><i>1</i><i>2</i><i>7</i> <em>/</em> <i>5</i><i>.</i><i>0</i></div>
<div class="t " aria-label="137 / 5.4" style="left:541.20px;top:232.37px;font-size:11.02px;--a:5.10px"><i>1</i><i>3</i><i>7</i> <em>/</em> <i>5</i><i>.</i><i>4</i></div>
<div class="t " aria-label="C" style="left:189.03px;top:243.28px;font-size:11.12px;--a:5.15px"><b style="--s:.64">C</b></div>
<div class="t " aria-label="203 / 8.0" style="left:298.80px;top:242.77px;font-size:11.02px;--a:5.10px"><i>2</i><i>0</i><i>3</i> <em>/</em> <i>8</i><i>.</i><i>0</i></div>
<div class="t " aria-label="203 / 8.0" style="left:420.40px;top:242.77px;font-size:11.02px;--a:5.10px"><i>2</i><i>0</i><i>3</i> <em>/</em> <i>8</i><i>.</i><i>0</i></div>
<div class="t " aria-label="203 / 8.0" style="left:541.20px;top:242.77px;font-size:11.02px;--a:5.10px"><i>2</i><i>0</i><i>3</i> <em>/</em> <i>8</i><i>.</i><i>0</i></div>
<div class="t " aria-label="150 / 6" style="left:48.30px;top:263.75px;font-size:10.80px;--a:5.00px"><i>1</i><i>5</i><i>0</i> <em>/</em> <i>6</i></div>
<div class="t " aria-label="A" style="left:189.03px;top:253.18px;font-size:11.12px;--a:5.15px"><b style="--s:.64">A</b></div>
<div class="t " aria-label="451 / 17.8" style="left:296.40px;top:252.67px;font-size:11.02px;--a:5.10px"><i>4</i><i>5</i><i>1</i> <em>/</em> <i>1</i><i>7</i><i>.</i><i>8</i></div>
<div class="t " aria-label="473 / 18.6" style="left:417.70px;top:252.67px;font-size:11.02px;--a:5.10px"><i>4</i><i>7</i><i>3</i> <em>/</em> <i>1</i><i>8</i><i>.</i><i>6</i></div>
<div class="t " aria-label="508 / 20.0" style="left:540.60px;top:252.67px;font-size:11.02px;--a:5.10px"><i>5</i><i>0</i><i>8</i> <em>/</em> <i>2</i><i>0</i><i>.</i><i>0</i></div>
<div class="t " aria-label="B" style="left:189.03px;top:264.78px;font-size:11.12px;--a:5.15px"><b style="--s:.69">B</b></div>
<div class="t " aria-label="140 / 5.5" style="left:298.80px;top:264.27px;font-size:11.02px;--a:5.10px"><i>1</i><i>4</i><i>0</i> <em>/</em> <i>5</i><i>.</i><i>5</i></div>
<div class="t " aria-label="159 / 6.3" style="left:420.40px;top:264.27px;font-size:11.02px;--a:5.10px"><i>1</i><i>5</i><i>9</i> <em>/</em> <i>6</i><i>.</i><i>3</i></div>
<div class="t " aria-label="178 / 7.0" style="left:541.20px;top:264.27px;font-size:11.02px;--a:5.10px"><i>1</i><i>7</i><i>8</i> <em>/</em> <i>7</i><i>.</i><i>0</i></div>
<div class="t " aria-label="C" style="left:189.03px;top:275.08px;font-size:11.12px;--a:5.15px"><b style="--s:.64">C</b></div>
<div class="t " aria-label="210 / 8.3" style="left:298.80px;top:274.57px;font-size:11.02px;--a:5.10px"><i>2</i><i>1</i><i>0</i> <em>/</em> <i>8</i><i>.</i><i>3</i></div>
<div class="t " aria-label="210 / 8.3" style="left:420.40px;top:274.57px;font-size:11.02px;--a:5.10px"><i>2</i><i>1</i><i>0</i> <em>/</em> <i>8</i><i>.</i><i>3</i></div>
<div class="t " aria-label="210 / 8.3" style="left:541.20px;top:274.57px;font-size:11.02px;--a:5.10px"><i>2</i><i>1</i><i>0</i> <em>/</em> <i>8</i><i>.</i><i>3</i></div>
<div class="t d" aria-label="254 /" style="left:106.95px;top:375.50px;font-size:7.40px;--a:3.70px"><i>2</i><i>5</i><i>4</i> <em>/</em></div>
<div class="t d" aria-label="10.0" style="left:108.10px;top:381.50px;font-size:7.40px;--a:3.70px"><i>1</i><i>0</i><i>.</i><i>0</i></div>
<div class="t d" aria-label="140 /" style="left:191.55px;top:296.90px;font-size:7.40px;--a:3.70px"><i>1</i><i>4</i><i>0</i> <em>/</em></div>
<div class="t d" aria-label="5.5" style="left:193.45px;top:304.20px;font-size:7.40px;--a:3.70px"><i>5</i><i>.</i><i>5</i></div>
<div class="t d" aria-label="E" style="left:290.85px;top:300.80px;font-size:7.40px;--a:3.70px"><b style="--s:.75">E</b></div>
<div class="t d" aria-label="186 /" style="left:130.95px;top:396.30px;font-size:7.40px;--a:3.70px"><i>1</i><i>8</i><i>6</i> <em>/</em></div>
<div class="t d" aria-label="7.3" style="left:132.75px;top:401.90px;font-size:7.40px;--a:3.70px"><i>7</i><i>.</i><i>3</i></div>
<div class="t d" aria-label="166 /" style="left:248.35px;top:325.00px;font-size:7.40px;--a:3.70px"><i>1</i><i>6</i><i>6</i> <em>/</em></div>
<div class="t d" aria-label="6.5" style="left:250.25px;top:332.00px;font-size:7.40px;--a:3.70px"><i>6</i><i>.</i><i>5</i></div>
<div class="t d" aria-label="83 /" style="left:207.20px;top:336.10px;font-size:7.40px;--a:3.70px"><i>8</i><i>3</i> <em>/</em></div>
<div class="t d" aria-label="3.3" style="left:208.25px;top:343.00px;font-size:7.40px;--a:3.70px"><i>3</i><i>.</i><i>3</i></div>
<div class="t d" aria-label="121 /" style="left:342.25px;top:413.80px;font-size:7.40px;--a:3.70px"><i>1</i><i>2</i><i>1</i> <em>/</em></div>
<div class="t d" aria-label="4.7" style="left:342.95px;top:421.30px;font-size:7.40px;--a:3.70px"><i>4</i><i>.</i><i>7</i></div>
<div class="t d" aria-label="C" style="left:345.65px;top:486.60px;font-size:7.40px;--a:3.70px"><b style="--s:.69">C</b></div>
<div class="t d" aria-label="B" style="left:345.65px;top:543.30px;font-size:7.40px;--a:3.70px"><b style="--s:.75">B</b></div>
<div class="t d" aria-label="A/2" style="left:199.45px;top:574.10px;font-size:7.40px;--a:3.70px"><b style="--s:.69">A</b><em>/</em><i>2</i></div>
<div class="t d" aria-label="A" style="left:235.65px;top:585.10px;font-size:7.40px;--a:3.70px"><b style="--s:.69">A</b></div>
<div class="t d k" aria-label="开" style="left:210.70px;top:398.44px;font-size:10.58px;--a:4.90px"><u>开</u></div>
<div class="t d k" aria-label="关" style="left:210.70px;top:421.04px;font-size:10.58px;--a:4.90px"><u>关</u></div>
<div class="t d" aria-label="22 /" style="left:446.80px;top:311.90px;font-size:7.40px;--a:3.70px"><i>2</i><i>2</i> <em>/</em></div>
<div class="t d" aria-label="0.9" style="left:446.05px;top:319.50px;font-size:7.40px;--a:3.70px"><i>0</i><i>.</i><i>9</i></div>
<div class="t d" aria-label="D" style="left:479.15px;top:318.80px;font-size:7.40px;--a:3.70px"><b style="--s:.69">D</b></div>
<div class="t c" aria-label="配有脱扣机构(BM)和压力传感器(BMS)的JEQ型切断阀" style="left:198.39px;top:596.61px;font-size:12.16px;--a:6.27px"><u>配</u><u>有</u><u>脱</u><u>扣</u><u>机</u><u>构</u><i>(</i><b style="--s:.77">B</b><b style="--s:.55">M</b><i>)</i><u>和</u><u>压</u><u>力</u><u>传</u><u>感</u><u>器</u><i>(</i><b style="--s:.77">B</b><b style="--s:.55">M</b><b style="--s:.93">S</b><i>)</i><u>的</u><b style="--s:1.00">J</b><b style="--s:.77">E</b><b style="--s:.66">Q</b><u>型</u><u>切</u><u>断</u><u>阀</u></div>
<div class="t d m" aria-label="mm / IN." style="left:368.00px;top:575.87px;font-size:7.68px;--a:3.20px"><b style="--s:.50">m</b><b style="--s:.50">m</b> <em>/</em> <b style="--s:1.00">I</b><b style="--s:.58">N</b><i>.</i></div>
</div>
</body></html>
